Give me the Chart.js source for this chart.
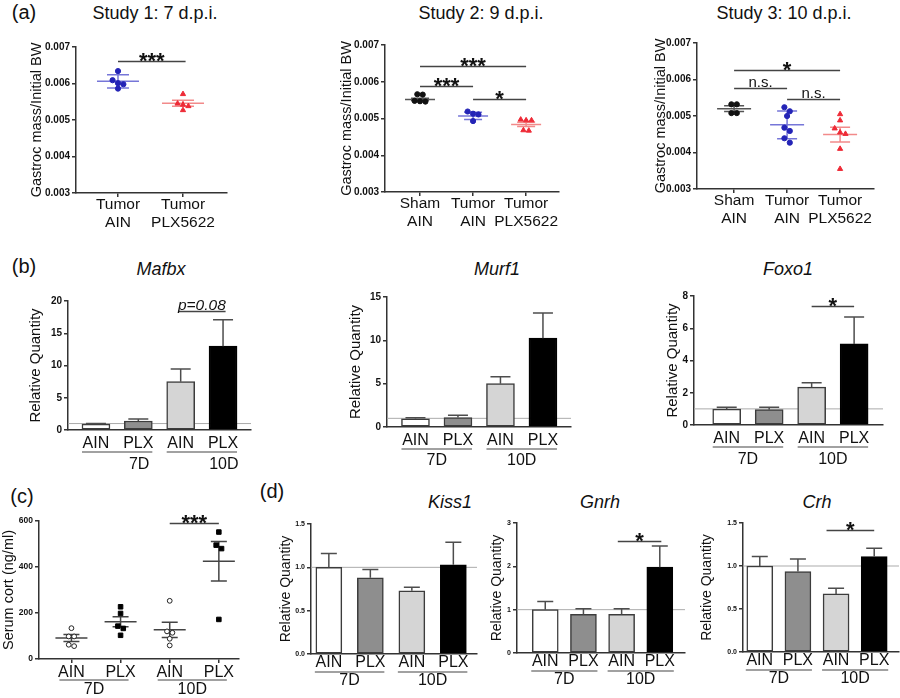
<!DOCTYPE html>
<html>
<head>
<meta charset="utf-8">
<title>Gastroc mass, atrophy genes and serum corticosterone</title>
<script src="https://cdn.jsdelivr.net/npm/chart.js@4.4.1/dist/chart.umd.min.js"></script>
<style>
  body { margin: 0; background: #fff; }
  #fig { position: relative; width: 900px; height: 698px; overflow: hidden;
         font-family: 'Liberation Sans', Arial, sans-serif; color: #111; }
  #fig canvas { position: absolute; }
  .txt { position: absolute; white-space: nowrap; line-height: 1; transform: translate(-50%, -50%); font-size: 18px; }
  .tag { font-size: 20px; }
  .gene { font-style: italic; }
</style>
</head>
<body>
<div id="fig">
  <div class="txt tag" style="left:24px;top:12px">(a)</div>
  <div class="txt" style="left:155px;top:13px">Study 1: 7 d.p.i.</div>
  <div class="txt" style="left:481px;top:13px">Study 2: 9 d.p.i.</div>
  <div class="txt" style="left:784px;top:13px">Study 3: 10 d.p.i.</div>
  <div class="txt tag" style="left:24px;top:266px">(b)</div>
  <div class="txt gene" style="left:161px;top:269px">Mafbx</div>
  <div class="txt gene" style="left:497px;top:269px">Murf1</div>
  <div class="txt gene" style="left:788px;top:269px">Foxo1</div>
  <div class="txt tag" style="left:22px;top:496px">(c)</div>
  <div class="txt tag" style="left:272px;top:491px">(d)</div>
  <div class="txt gene" style="left:450px;top:502px">Kiss1</div>
  <div class="txt gene" style="left:600px;top:502px">Gnrh</div>
  <div class="txt gene" style="left:817px;top:502px">Crh</div>
  <canvas id="a1"></canvas>
  <canvas id="a2"></canvas>
  <canvas id="a3"></canvas>
  <canvas id="b1"></canvas>
  <canvas id="b2"></canvas>
  <canvas id="b3"></canvas>
  <canvas id="c1"></canvas>
  <canvas id="d1"></canvas>
  <canvas id="d2"></canvas>
  <canvas id="d3"></canvas>
</div>
<script>
// ---- (a) gastroc mass / initial BW, one array per group ----
var study1Labels = [['Tumor', 'AIN'], ['Tumor', 'PLX5622']];
var study23Labels = [['Sham', 'AIN'], ['Tumor', 'AIN'], ['Tumor', 'PLX5622']];

var s1TumorAIN = [0.00634, 0.00609, 0.00601, 0.00598, 0.00586];
var s1TumorPLX = [0.00571, 0.00545, 0.00542, 0.00538, 0.00527];
var s1Mean = [0.00606, 0.00546];
var s1Err = [0.00018, 0.00008];
var s1Sig = [[0, 1.04, 0.00661, '***']];

var s2ShamAIN = [0.00566, 0.00565, 0.00548, 0.00547, 0.00546];
var s2TumorAIN = [0.00519, 0.00513, 0.00511, 0.00493];
var s2TumorPLX = [0.00497, 0.00495, 0.00495, 0.00468, 0.00467];
var s2Mean = [0.00552, 0.00507, 0.00484];
var s2Err = [0.00003, 0.0001, 0.00006];
var s2Sig = [[0, 2, 0.00643, '***'], [0, 1, 0.00588, '***'], [1, 2, 0.00552, '*']];

var s3ShamAIN = [0.00532, 0.00532, 0.00508, 0.00508];
var s3TumorAIN = [0.00524, 0.00513, 0.0050, 0.00468, 0.00459, 0.00439, 0.00427];
var s3TumorPLX = [0.00505, 0.00488, 0.00466, 0.00455, 0.00451, 0.0041, 0.00355];
var s3Mean = [0.0052, 0.00476, 0.00449];
var s3Err = [0.00008, 0.00038, 0.0002];
var s3Sig = [[0, 2, 0.00625, '*'], [0, 1, 0.00577, 'n.s.'], [1, 2, 0.00546, 'n.s.']];

// ---- (b) and (d) qPCR, relative quantity ----
var qpcrLabels = ['AIN', 'PLX', 'AIN', 'PLX'];
var dayLabels = ['7D', '10D'];
var dayMembers = [[0, 1], [2, 3]];

var mafbx = [0.9, 1.4, 7.5, 13.0];
var mafbxErr = [0.12, 0.3, 1.95, 4.1];
var mafbxSig = [[1.94, 3.06, 18.5, 'p=0.08']];

var murf1 = [0.95, 1.1, 5.0, 10.25];
var murf1Err = [0.12, 0.25, 0.8, 2.9];

var foxo1 = [0.98, 0.95, 2.35, 5.03];
var foxo1Err = [0.12, 0.15, 0.27, 1.67];
var foxo1Sig = [[2, 3, 7.36, '*']];

var kiss1 = [1.0, 0.88, 0.73, 1.03];
var kiss1Err = [0.16, 0.095, 0.04, 0.26];

var gnrh = [1.0, 0.89, 0.89, 1.98];
var gnrhErr = [0.19, 0.13, 0.13, 0.49];
var gnrhSig = [[1.9, 3.04, 2.59, '*']];

var crh = [1.0, 0.935, 0.675, 1.11];
var crhErr = [0.11, 0.145, 0.065, 0.095];
var crhSig = [[1.75, 3, 1.415, '*']];

// ---- (c) serum corticosterone (ng/ml) ----
var cortAIN7 = [134, 98, 98, 62, 56];
var cortPLX7 = [227, 198, 143, 133, 103];
var cortAIN10 = [253, 120, 114, 88, 59];
var cortPLX10 = [552, 495, 480, 172];
var cortMean = [91, 162, 127, 425];
var cortErr = [15, 22, 33, 86];
var cortSig = [[2, 3, 591, '***']];

var BLUE = '#2424b6', BLUE_LINE = '#7676d8';
var RED = '#ee2a36', RED_LINE = '#f28a8a';
var BLACK = '#111111', BLACK_LINE = '#555555';
var AXIS = '#333333';
var BAR_FILL = ['#ffffff', '#8e8e8e', '#d5d5d5', '#000000'];
var BAR_EDGE = ['#3c3c3c', '#3c3c3c', '#3c3c3c', '#000000'];
var FONT = "'Liberation Sans', Arial, sans-serif";

Chart.defaults.font.family = FONT;
Chart.defaults.color = '#000';

// spread overlapping dots sideways, row by row (pixel space)
var swarmPlugin = {
  id: 'swarm',
  afterDatasetsUpdate: function (chart) {
    chart.data.datasets.forEach(function (ds, di) {
      var pts = chart.getDatasetMeta(di).data.slice().sort(function (p, q) { return p.y - q.y; });
      var row = [];
      function flush() {
        row.forEach(function (p, k) { p.x += (k - (row.length - 1) / 2) * 5.4; });
        row = [];
      }
      pts.forEach(function (p) {
        if (row.length && p.y - row[0].y > 6) flush();
        row.push(p);
      });
      flush();
    });
  }
};

function meanPlugin(means, errs, colors, halfMean, halfCap) {
  return {
    id: 'meanErr',
    beforeDatasetsDraw: function (chart) {
      var ctx = chart.ctx, xs = chart.scales.x, ys = chart.scales.y;
      ctx.save();
      ctx.lineWidth = 1.5;
      means.forEach(function (m, i) {
        var cx = xs.getPixelForValue(i);
        var ym = ys.getPixelForValue(m);
        var yh = ys.getPixelForValue(m + errs[i]);
        var yl = ys.getPixelForValue(m - errs[i]);
        ctx.strokeStyle = colors[i];
        ctx.beginPath();
        ctx.moveTo(cx - halfMean, ym); ctx.lineTo(cx + halfMean, ym);
        ctx.moveTo(cx - halfCap, yh); ctx.lineTo(cx + halfCap, yh);
        ctx.moveTo(cx - halfCap, yl); ctx.lineTo(cx + halfCap, yl);
        ctx.moveTo(cx, yh); ctx.lineTo(cx, yl);
        ctx.stroke();
      });
      ctx.restore();
    }
  };
}

function barErrPlugin(errs, halfCap) {
  return {
    id: 'barErr',
    afterDatasetsDraw: function (chart) {
      var ctx = chart.ctx, ys = chart.scales.y;
      var vals = chart.data.datasets[0].data;
      ctx.save();
      ctx.strokeStyle = '#4d4d4d';
      ctx.lineWidth = 1.5;
      chart.getDatasetMeta(0).data.forEach(function (bar, i) {
        var top = ys.getPixelForValue(vals[i].y + errs[i]);
        ctx.beginPath();
        ctx.moveTo(bar.x, bar.y); ctx.lineTo(bar.x, top);
        ctx.moveTo(bar.x - halfCap, top); ctx.lineTo(bar.x + halfCap, top);
        ctx.stroke();
      });
      ctx.restore();
    }
  };
}

function refPlugin(value) {
  return {
    id: 'ref',
    beforeDatasetsDraw: function (chart) {
      var ctx = chart.ctx, a = chart.chartArea;
      var y = chart.scales.y.getPixelForValue(value);
      ctx.save();
      ctx.strokeStyle = '#ababab';
      ctx.lineWidth = 1;
      ctx.beginPath(); ctx.moveTo(a.left, y); ctx.lineTo(a.right, y); ctx.stroke();
      ctx.restore();
    }
  };
}

function sigPlugin(list) {
  return {
    id: 'sig',
    afterDatasetsDraw: function (chart) {
      var ctx = chart.ctx, xs = chart.scales.x, ys = chart.scales.y;
      ctx.save();
      list.forEach(function (s) {
        var x0 = xs.getPixelForValue(s[0]), x1 = xs.getPixelForValue(s[1]);
        var y = Math.round(ys.getPixelForValue(s[2])) + 0.5, mid = (x0 + x1) / 2;
        ctx.strokeStyle = '#444';
        ctx.lineWidth = 1.3;
        ctx.beginPath(); ctx.moveTo(x0, y); ctx.lineTo(x1, y); ctx.stroke();
        ctx.fillStyle = '#111';
        ctx.textAlign = 'center';
        ctx.textBaseline = 'alphabetic';
        if (s[3].charAt(0) === '*') {
          ctx.font = 'bold 22px ' + FONT;
          ctx.fillText(s[3], mid, y + 6);
        } else if (s[3] === 'n.s.') {
          ctx.font = '15px ' + FONT;
          ctx.fillText(s[3], mid, y - 2);
        } else {
          ctx.font = 'italic 15.5px ' + FONT;
          ctx.fillText(s[3], mid, y - 1.5);
        }
      });
      ctx.restore();
    }
  };
}

// 7D / 10D group rules and labels under the x tick labels
function dayPlugin(lineDy, textDy, extL, extR, shift) {
  return {
    id: 'days',
    afterDraw: function (chart) {
      var ctx = chart.ctx, xs = chart.scales.x, yb = chart.chartArea.bottom;
      ctx.save();
      ctx.strokeStyle = '#444';
      ctx.lineWidth = 1.2;
      ctx.fillStyle = '#111';
      ctx.font = '16px ' + FONT;
      ctx.textAlign = 'center';
      ctx.textBaseline = 'middle';
      dayLabels.forEach(function (lab, g) {
        var a = xs.getPixelForValue(dayMembers[g][0]) - extL;
        var b = xs.getPixelForValue(dayMembers[g][1]) + extR;
        ctx.beginPath(); ctx.moveTo(a, yb + lineDy); ctx.lineTo(b, yb + lineDy); ctx.stroke();
        ctx.fillText(lab, (a + b) / 2 + shift, yb + textDy);
      });
      ctx.restore();
    }
  };
}

function dots(values, cat, style, edge, fill, r) {
  return {
    data: values.map(function (v) { return { x: cat, y: v }; }),
    pointStyle: style, pointRadius: r, borderWidth: 1,
    backgroundColor: fill, borderColor: edge, showLine: false
  };
}

function bars(values, thickness) {
  return {
    data: values.map(function (v, i) { return { x: i, y: v }; }),
    backgroundColor: BAR_FILL, borderColor: BAR_EDGE, borderWidth: 1.5,
    barThickness: thickness, borderSkipped: false
  };
}

// box = canvas [left, top, w, h]; area = plot area [left, top, right, bottom], page px
function makeChart(id, spec) {
  var b = spec.box, a = spec.area, x = spec.x, y = spec.y;
  var cv = document.getElementById(id);
  cv.width = b[2]; cv.height = b[3];
  cv.style.left = b[0] + 'px'; cv.style.top = b[1] + 'px';
  cv.style.width = b[2] + 'px'; cv.style.height = b[3] + 'px';
  var yw = a[0] - b[0], xh = b[1] + b[3] - a[3];
  var titlePad = Math.max(0, y.titleX - b[0] - y.titleSize * 0.6);
  return new Chart(cv, {
    type: spec.type,
    data: { datasets: spec.datasets },
    plugins: spec.plugins,
    options: {
      responsive: false, animation: false, events: [], devicePixelRatio: 1,
      layout: { padding: { left: 0, bottom: 0, top: a[1] - b[1], right: b[0] + b[2] - a[2] } },
      plugins: { legend: { display: false }, tooltip: { enabled: false } },
      scales: {
        x: {
          type: 'linear', min: x.min, max: x.max, offset: false,
          afterFit: function (s) { s.height = xh; },
          afterBuildTicks: function (s) { s.ticks = x.labels.map(function (l, i) { return { value: i }; }); },
          border: { color: AXIS, width: 1.5 },
          grid: { display: x.marks, drawOnChartArea: false, drawTicks: x.marks, tickLength: 4,
                  color: AXIS, lineWidth: 1.5, offset: false },
          ticks: { padding: x.pad, autoSkip: false, maxRotation: 0, minRotation: 0, color: '#111',
                   font: { size: x.size, lineHeight: x.lh },
                   callback: function (v) { return x.labels[Math.round(v)]; } }
        },
        y: {
          type: 'linear', min: y.min, max: y.max,
          afterFit: function (s) { s.width = yw; },
          border: { color: AXIS, width: 1.5 },
          grid: { drawOnChartArea: false, drawTicks: true, tickLength: 4, color: AXIS, lineWidth: 1.5 },
          ticks: { stepSize: y.step, padding: 2, color: '#111', font: { size: y.size, weight: 'bold' },
                   callback: function (v) { return v.toFixed(y.digits); } },
          title: { display: true, text: y.title, color: '#111', font: { size: y.titleSize, lineHeight: 1.2 },
                   padding: { top: titlePad, bottom: 0 } }
        }
      }
    }
  });
}

var gastrocY = { min: 0.003, max: 0.007, step: 0.001, digits: 3, size: 10,
                 title: 'Gastroc mass/Initial BW', titleSize: 14.5 };

makeChart('a1', {
  type: 'scatter', box: [0, 30, 240, 200], area: [76, 47, 227, 193],
  x: { min: -0.646, max: 1.677, labels: study1Labels, marks: true, pad: -1, size: 15.5, lh: 1.16 },
  y: Object.assign({ titleX: 37 }, gastrocY),
  datasets: [
    dots(s1TumorAIN, 0, 'circle', BLUE, BLUE, 2.6),
    dots(s1TumorPLX, 1, 'triangle', RED, RED, 3)
  ],
  plugins: [swarmPlugin, meanPlugin(s1Mean, s1Err, [BLUE_LINE, RED_LINE], 21, 11), sigPlugin(s1Sig)]
});

makeChart('a2', {
  type: 'scatter', box: [300, 30, 280, 200], area: [385, 45, 559, 192],
  x: { min: -0.66, max: 2.62, labels: study23Labels, marks: true, pad: -1, size: 15.5, lh: 1.16 },
  y: Object.assign({ titleX: 347 }, gastrocY),
  datasets: [
    dots(s2ShamAIN, 0, 'circle', BLACK, BLACK, 2.6),
    dots(s2TumorAIN, 1, 'circle', BLUE, BLUE, 2.6),
    dots(s2TumorPLX, 2, 'triangle', RED, RED, 3)
  ],
  plugins: [swarmPlugin, meanPlugin(s2Mean, s2Err, [BLACK_LINE, BLUE_LINE, RED_LINE], 15, 9), sigPlugin(s2Sig)]
});

makeChart('a3', {
  type: 'scatter', box: [620, 30, 270, 200], area: [697, 43, 874, 189],
  x: { min: -0.70, max: 2.64, labels: study23Labels, marks: true, pad: -1, size: 15.5, lh: 1.16 },
  y: Object.assign({ titleX: 661 }, gastrocY),
  datasets: [
    dots(s3ShamAIN, 0, 'circle', BLACK, BLACK, 2.6),
    dots(s3TumorAIN, 1, 'circle', BLUE, BLUE, 2.6),
    dots(s3TumorPLX, 2, 'triangle', RED, RED, 3)
  ],
  plugins: [swarmPlugin, meanPlugin(s3Mean, s3Err, [BLACK_LINE, BLUE_LINE, RED_LINE], 17, 10), sigPlugin(s3Sig)]
});

function qpcrY(max, step, digits, size, titleX, titleSize) {
  return { min: 0, max: max, step: step, digits: digits, size: size,
           title: 'Relative Quantity', titleSize: titleSize, titleX: titleX };
}

makeChart('b1', {
  type: 'bar', box: [0, 285, 265, 190], area: [68, 301, 251, 430],
  x: { min: -0.66, max: 3.66, labels: qpcrLabels, marks: false, pad: 4, size: 16, lh: 1.2 },
  y: qpcrY(20, 5, 0, 10, 36, 15),
  datasets: [bars(mafbx, 28)],
  plugins: [refPlugin(1), barErrPlugin(mafbxErr, 10), sigPlugin(mafbxSig), dayPlugin(22, 35, 14, 14, 22)]
});

makeChart('b2', {
  type: 'bar', box: [310, 285, 275, 190], area: [387, 297, 571, 427],
  x: { min: -0.67, max: 3.66, labels: qpcrLabels, marks: false, pad: 4, size: 16, lh: 1.2 },
  y: qpcrY(15, 5, 0, 10, 356, 15),
  datasets: [bars(murf1, 28)],
  plugins: [refPlugin(1), barErrPlugin(murf1Err, 10), dayPlugin(22, 34, 14, 14, 0)]
});

makeChart('b3', {
  type: 'bar', box: [620, 285, 275, 190], area: [694, 296, 883, 425],
  x: { min: -0.77, max: 3.68, labels: qpcrLabels, marks: false, pad: 4, size: 16, lh: 1.2 },
  y: qpcrY(8, 2, 0, 10, 673, 15),
  datasets: [bars(foxo1, 28)],
  plugins: [refPlugin(1), barErrPlugin(foxo1Err, 10), sigPlugin(foxo1Sig), dayPlugin(22, 35, 14, 14, 0)]
});

makeChart('c1', {
  type: 'scatter', box: [0, 505, 250, 193], area: [39, 521, 239, 659],
  x: { min: -0.66, max: 3.41, labels: qpcrLabels, marks: true, pad: 0, size: 16, lh: 1.2 },
  y: { min: 0, max: 600, step: 200, digits: 0, size: 8.5, title: 'Serum cort (ng/ml)', titleSize: 14.5, titleX: 8 },
  datasets: [
    dots(cortAIN7, 0, 'circle', '#222', '#fff', 2.4),
    dots(cortPLX7, 1, 'rect', '#000', '#000', 3.2),
    dots(cortAIN10, 2, 'circle', '#222', '#fff', 2.4),
    dots(cortPLX10, 3, 'rect', '#000', '#000', 3.2)
  ],
  plugins: [swarmPlugin, meanPlugin(cortMean, cortErr, ['#444', '#444', '#444', '#444'], 16, 8),
            sigPlugin(cortSig), dayPlugin(21, 31, 12, 8, 0)]
});

makeChart('d1', {
  type: 'bar', box: [270, 510, 212, 188], area: [311, 524, 477, 654],
  x: { min: -0.43, max: 3.57, labels: qpcrLabels, marks: false, pad: -1, size: 16, lh: 1.2 },
  y: qpcrY(1.5, 0.5, 1, 7, 286, 14),
  datasets: [bars(kiss1, 26)],
  plugins: [refPlugin(1), barErrPlugin(kiss1Err, 8), dayPlugin(18, 27, 14, 14, 0)]
});

makeChart('d2', {
  type: 'bar', box: [482, 510, 208, 188], area: [517, 523, 685, 653],
  x: { min: -0.74, max: 3.66, labels: qpcrLabels, marks: false, pad: -1, size: 16, lh: 1.2 },
  y: qpcrY(3, 1, 0, 7, 497, 14),
  datasets: [bars(gnrh, 26)],
  plugins: [refPlugin(1), barErrPlugin(gnrhErr, 8), sigPlugin(gnrhSig), dayPlugin(18, 27, 14, 14, 0)]
});

makeChart('d3', {
  type: 'bar', box: [690, 510, 210, 188], area: [743, 523, 899, 652],
  x: { min: -0.44, max: 3.65, labels: qpcrLabels, marks: false, pad: -1, size: 16, lh: 1.2 },
  y: qpcrY(1.5, 0.5, 1, 7, 707, 14),
  datasets: [bars(crh, 26)],
  plugins: [refPlugin(1), barErrPlugin(crhErr, 8), sigPlugin(crhSig), dayPlugin(18, 27, 14, 14, 0)]
});
</script>
</body>
</html>
